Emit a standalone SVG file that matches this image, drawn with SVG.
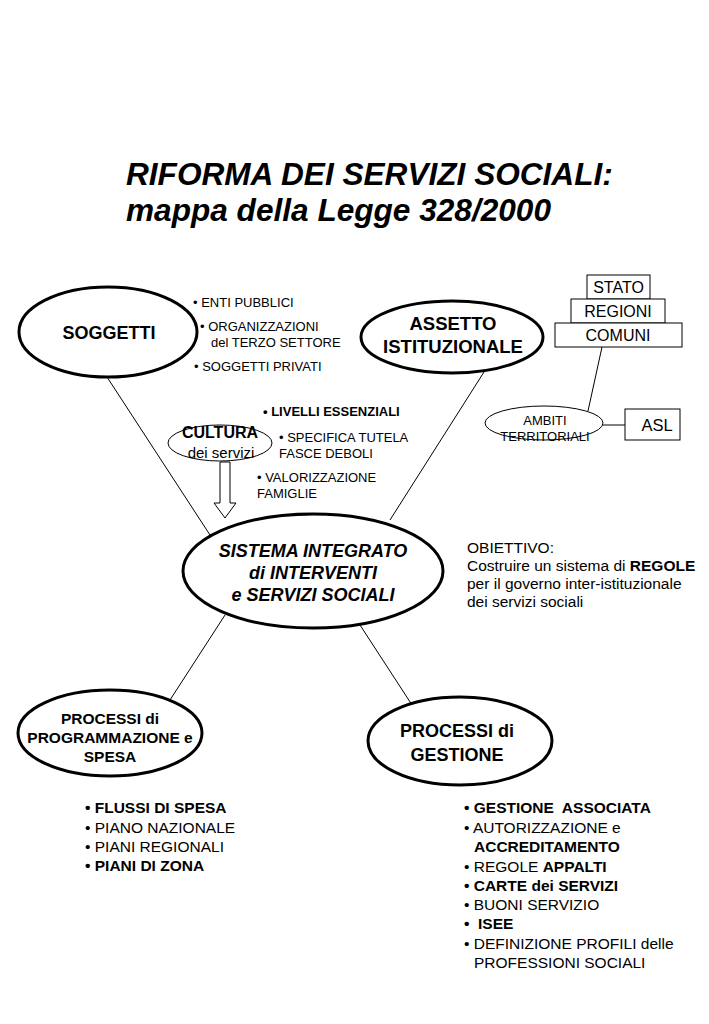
<svg xmlns="http://www.w3.org/2000/svg" width="709" height="1024" viewBox="0 0 709 1024">
<style>
text{font-family:"Liberation Sans",Arial,sans-serif;fill:#000}
.b{font-weight:bold}
.bi{font-weight:bold;font-style:italic}
.big{fill:#fff;stroke:#000;stroke-width:3}
.thin{fill:#fff;stroke:#000;stroke-width:1}
.ln{stroke:#000;stroke-width:1;fill:none}
.s13{font-size:13px}
.sl{font-size:15.5px}
.m{text-anchor:middle}
</style>
<rect width="709" height="1024" fill="#fff"/>
<g id="title">
<text x="126" y="185" class="bi" font-size="31.6">RIFORMA DEI SERVIZI SOCIALI:</text>
<text x="126" y="221" class="bi" font-size="31.6">mappa della Legge 328/2000</text>
</g>
<g id="connectors">
<line class="ln" x1="107" y1="377" x2="210" y2="535"/>
<line class="ln" x1="484" y1="372" x2="390" y2="520"/>
<line class="ln" x1="602" y1="347" x2="588" y2="411"/>
<line class="ln" x1="603" y1="425" x2="625" y2="425"/>
<line class="ln" x1="225" y1="615" x2="170" y2="700"/>
<line class="ln" x1="360" y1="625" x2="412" y2="705"/>
<path class="thin" d="M220,462 L230,462 L230,503 L236,503 L225,518 L214,503 L220,503 Z"/>
</g>
<g id="soggetti">
<ellipse class="big" cx="108" cy="332" rx="89" ry="45"/>
<text x="109" y="339" class="b m" font-size="18">SOGGETTI</text>
<text x="193" y="307" class="s13">• ENTI PUBBLICI</text>
<text x="200" y="331" class="s13">• ORGANIZZAZIONI</text>
<text x="211" y="347" class="s13">del TERZO SETTORE</text>
<text x="194" y="371" class="s13">• SOGGETTI PRIVATI</text>
</g>
<g id="assetto">
<ellipse class="big" cx="452" cy="337" rx="91" ry="36"/>
<text x="453" y="330" class="b m" font-size="18.5">ASSETTO</text>
<text x="453" y="353" class="b m" font-size="18.5">ISTITUZIONALE</text>
</g>
<g id="stato">
<rect class="thin" x="587" y="275" width="63" height="24"/>
<text x="618.5" y="293" class="m" font-size="16">STATO</text>
</g>
<g id="regioni">
<rect class="thin" x="571" y="299" width="94" height="24"/>
<text x="618" y="317" class="m" font-size="16">REGIONI</text>
</g>
<g id="comuni">
<rect class="thin" x="555" y="323" width="127" height="24"/>
<text x="618" y="341" class="m" font-size="16">COMUNI</text>
</g>
<g id="ambiti">
<ellipse class="thin" cx="544" cy="423" rx="59" ry="17"/>
<text x="545" y="425" class="m" font-size="13">AMBITI</text>
<text x="545" y="441" class="m" font-size="13">TERRITORIALI</text>
</g>
<g id="asl">
<rect class="thin" x="625" y="409" width="55" height="31"/>
<text x="657" y="431" class="m" font-size="16.5">ASL</text>
</g>
<g id="cultura">
<ellipse class="thin" cx="220" cy="443" rx="52" ry="18"/>
<text x="220" y="438" class="b m" font-size="16">CULTURA</text>
<text x="221" y="458" class="m" font-size="15">dei servizi</text>
<text x="263" y="416" class="b s13">• LIVELLI ESSENZIALI</text>
<text x="279" y="442" class="s13">• SPECIFICA TUTELA</text>
<text x="279" y="458" class="s13">FASCE DEBOLI</text>
<text x="257" y="482" class="s13">• VALORIZZAZIONE</text>
<text x="257" y="498" class="s13">FAMIGLIE</text>
</g>
<g id="sistema">
<ellipse class="big" cx="313" cy="571" rx="130" ry="57"/>
<text x="313" y="557" class="bi m" font-size="18">SISTEMA INTEGRATO</text>
<text x="313" y="579" class="bi m" font-size="18">di INTERVENTI</text>
<text x="313" y="601" class="bi m" font-size="18">e SERVIZI SOCIALI</text>
</g>
<g id="obiettivo">
<text x="467" y="553" font-size="15.5">OBIETTIVO:</text>
<text x="467" y="571" font-size="15.5">Costruire un sistema di <tspan class="b">REGOLE</tspan></text>
<text x="467" y="589" font-size="15.5">per il governo inter-istituzionale</text>
<text x="467" y="607" font-size="15.5">dei servizi sociali</text>
</g>
<g id="programmazione">
<ellipse class="big" cx="110" cy="733" rx="92" ry="43"/>
<text x="110" y="724" class="b m" font-size="15.5">PROCESSI di</text>
<text x="110" y="743" class="b m" font-size="15.5">PROGRAMMAZIONE e</text>
<text x="110" y="762" class="b m" font-size="15.5">SPESA</text>
<text x="85" y="813" class="b sl">• FLUSSI DI SPESA</text>
<text x="85" y="833" class="sl">• PIANO NAZIONALE</text>
<text x="85" y="852" class="sl">• PIANI REGIONALI</text>
<text x="85" y="871" class="b sl">• PIANI DI ZONA</text>
</g>
<g id="gestione">
<ellipse class="big" cx="460" cy="741" rx="92" ry="44"/>
<text x="457" y="737" class="b m" font-size="18">PROCESSI di</text>
<text x="457" y="761" class="b m" font-size="18">GESTIONE</text>
<text x="464" y="813" class="b sl" xml:space="preserve">• GESTIONE  ASSOCIATA</text>
<text x="464" y="833" class="sl">• AUTORIZZAZIONE e</text>
<text x="474" y="852" class="b sl">ACCREDITAMENTO</text>
<text x="464" y="872" class="sl">• REGOLE <tspan class="b">APPALTI</tspan></text>
<text x="464" y="891" class="b sl">• CARTE dei SERVIZI</text>
<text x="464" y="910" class="sl">• BUONI SERVIZIO</text>
<text x="464" y="929" class="b sl" xml:space="preserve">•  ISEE</text>
<text x="464" y="949" class="sl">• DEFINIZIONE PROFILI delle</text>
<text x="474" y="968" class="sl">PROFESSIONI SOCIALI</text>
</g>
</svg>
